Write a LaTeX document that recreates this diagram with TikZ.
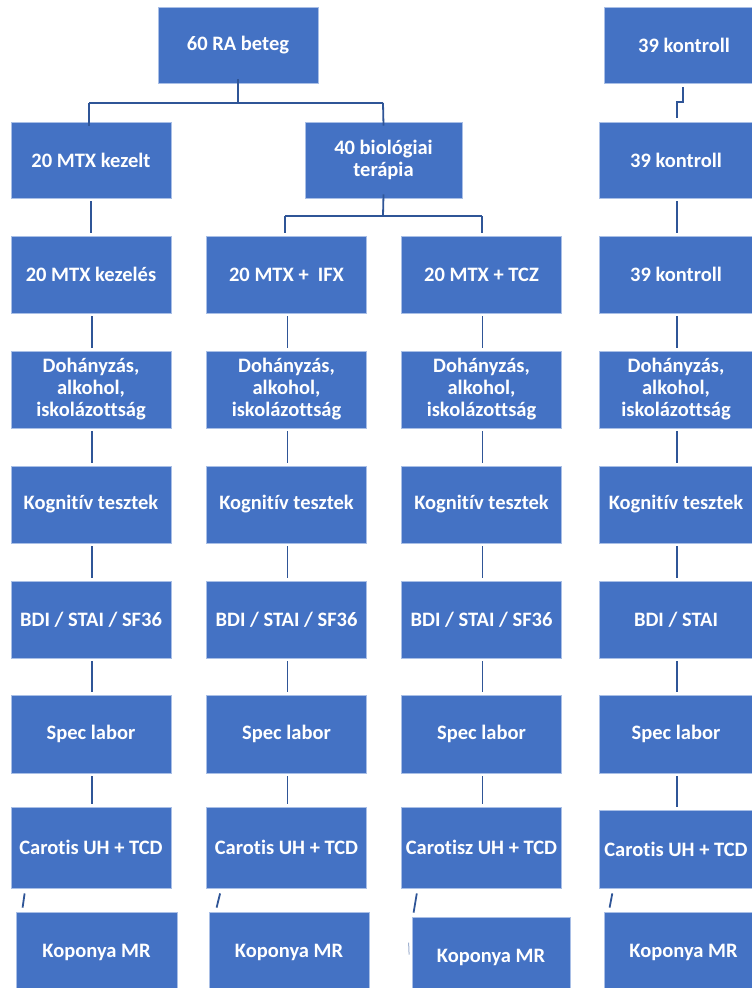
\documentclass[tikz,border=0pt]{standalone}
\usepackage{fontspec}
\setmainfont[Ligatures=NoCommon]{Carlito}
\definecolor{boxblue}{HTML}{4472C4}
\definecolor{boxedge}{HTML}{A9BFE6}
\definecolor{linkblue}{HTML}{2F5597}
\tikzset{
  box/.style={draw=boxedge, line width=0.8pt, fill=boxblue, text=white,
    minimum height=76pt, inner sep=0pt, align=center, anchor=center,
    font=\fontsize{20.5}{22}\selectfont\bfseries},
  w160/.style={minimum width=160pt},
  w154/.style={minimum width=154pt},
  link/.style={draw=linkblue, line width=1.8pt},
  vlink/.style={link, shorten <=3pt, shorten >=3pt}
}
\begin{document}
\begin{tikzpicture}[x=1pt,y=-1pt]
\clip (0,0) rectangle (752,988);
\fill[white] (0,0) rectangle (752,988);
% top row
\node[box,w160] (ra) at (238,45) {60 RA beteg};
\node[box,w160] (k1) at (684,45) {39 kontroll};
% row 2
\node[box,w160] (m2) at (91,160) {20 MTX kezelt};
\node[box,minimum width=157pt] (b2) at (383.5,160) {40 biológiai\\terápia};
\node[box,w154] (c2) at (676,160) {39 kontroll};
% row 3
\node[box,w160,minimum height=77pt] (m3) at (91,274.5) {20 MTX kezelés};
\node[box,w160,minimum height=77pt] (i3) at (286.5,274.5) {20 MTX +\ \ IFX};
\node[box,w160,minimum height=77pt] (t3) at (481.5,274.5) {20 MTX + TCZ};
\node[box,w154,minimum height=77pt] (c3) at (676,274.5) {39 kontroll};
% row 4
\foreach \n/\x/\s in {m4/91/w160,i4/286.5/w160,t4/481.5/w160,c4/676/w154}
  \node[box,\s,minimum height=77pt] (\n) at (\x,389.5) {Dohányzás,\\alkohol,\\iskolázottság};
% row 5
\foreach \n/\x/\s in {m5/91/w160,i5/286.5/w160,t5/481.5/w160,c5/676/w154}
  \node[box,\s,minimum height=77pt] (\n) at (\x,504.5) {Kognitív tesztek};
% row 6
\node[box,w160,minimum height=77pt] (m6) at (91,619.5) {BDI / STAI / SF36};
\node[box,w160,minimum height=77pt] (i6) at (286.5,619.5) {BDI / STAI / SF36};
\node[box,w160,minimum height=77pt] (t6) at (481.5,619.5) {BDI / STAI / SF36};
\node[box,w154,minimum height=77pt] (c6) at (676,619.5) {BDI / STAI};
% row 7
\foreach \n/\x/\s in {m7/91/w160,i7/286.5/w160,t7/481.5/w160,c7/676/w154}
  \node[box,\s,minimum height=78pt] (\n) at (\x,734) {Spec labor};
% row 8
\node[box,w160,minimum height=81pt] (m8) at (91,847.5) {Carotis UH + TCD};
\node[box,w160,minimum height=81pt] (i8) at (286.5,847.5) {Carotis UH + TCD};
\node[box,w160,minimum height=81pt] (t8) at (481.5,847.5) {Carotisz UH + TCD};
\node[box,w154,minimum height=78pt] (c8) at (676,849) {Carotis UH + TCD};
% row 9
\node[box,minimum width=161pt,minimum height=80pt] (m9) at (96.5,952) {Koponya MR};
\node[box,w160,minimum height=80pt] (i9) at (289,952) {Koponya MR};
\node[box,minimum width=158pt,minimum height=80pt] (t9) at (491,957) {Koponya MR};
\node[box,minimum width=159pt,minimum height=80pt] (c9) at (683.5,952) {Koponya MR};

% connectors: top tree
\coordinate (j1) at (238,103);
\draw[link] ([yshift=4pt]ra.south) -- (j1);
\draw[link] (89,103) -- (383,103);
\draw[link] (89,103) -- ([yshift=-4pt]m2.north -| 89,0);
\draw[link] (383,103) -- ([yshift=-4pt]b2.north);
% bio split
\draw[link] ([yshift=4pt]b2.south) -- (383,216);
\draw[link] (285,216) -- (482,216);
\draw[link] (285,216) -- (285,233);
\draw[link] (482,216) -- (482,233);
% control zigzag
\draw[link] ([shift={(-1,4)}]k1.south) -- (683,102) -- (677,102) -- ([shift={(1,-4)}]c2.north);
% column verticals
\draw[vlink] (m2.south) -- (m3.north);
\foreach \c in {m,i,t,c}{
  \draw[vlink] ([xshift=1pt]\c3.south) -- ([xshift=1pt]\c4.north);
  \draw[vlink] ([xshift=1pt]\c4.south) -- ([xshift=1pt]\c5.north);
  \draw[vlink] ([xshift=1pt]\c5.south) -- ([xshift=1pt]\c6.north);
  \draw[vlink] ([xshift=1pt]\c6.south) -- ([xshift=1pt]\c7.north);
  \draw[vlink] ([xshift=1pt]\c7.south) -- ([xshift=1pt]\c8.north);
}
\draw[vlink] ([xshift=1pt]c2.south) -- ([xshift=1pt]c3.north);
% slanted stubs between rows 8 and 9
\draw[link] ([shift={(14,5)}]m8.south west) -- ([shift={(7,-4)}]m9.north west);
\draw[link] ([shift={(14,5)}]i8.south west) -- ([shift={(8,-4)}]i9.north west);
\draw[link] ([shift={(15.7,5)}]t8.south west) -- ([shift={(2,-4)}]t9.north west);
\draw[link] ([shift={(13.7,5)}]c8.south west) -- ([shift={(6,-4)}]c9.north west);
\draw[draw=linkblue!45, line width=1pt] ([shift={(-3,26)}]t9.north west) -- ([shift={(-2.5,38)}]t9.north west);
\end{tikzpicture}
\end{document}
